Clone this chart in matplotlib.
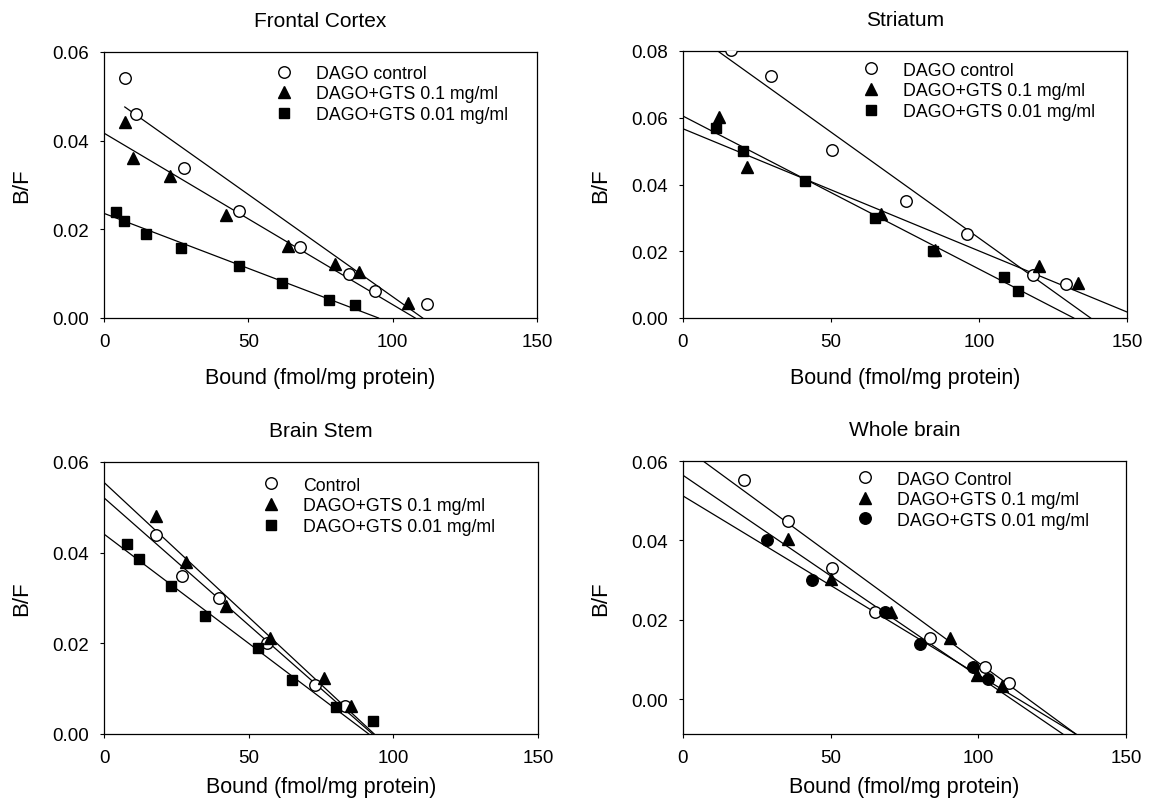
import matplotlib

matplotlib.use("Agg")
import matplotlib.pyplot as plt

plt.rcParams["font.family"] = ["Liberation Sans", "DejaVu Sans"]

# Frontal Cortex
fc_ctrl_x = [7.2, 11.0, 27.8, 46.9, 67.8, 85.0, 93.9, 111.9]
fc_ctrl_y = [0.0541, 0.0460, 0.0339, 0.0242, 0.0161, 0.0099, 0.0061, 0.0031]
fc_g01_x = [7.2, 9.9, 22.7, 42.4, 63.6, 79.9, 88.4, 105.3]
fc_g01_y = [0.0442, 0.0361, 0.0320, 0.0232, 0.0163, 0.0122, 0.0103, 0.0034]
fc_g001_x = [4.3, 6.9, 14.5, 26.8, 46.6, 61.7, 78.0, 86.9]
fc_g001_y = [0.0240, 0.0219, 0.0189, 0.0159, 0.0118, 0.0079, 0.0040, 0.0030]
fc_ctrl_fit = ([7.2, 110.4], [0.0476, 0.0])
fc_g01_fit = ([0.0, 107.8], [0.0417, 0.0])
fc_g001_fit = ([0.0, 95.1], [0.0236, 0.0])

# Striatum
st_ctrl_x = [16.3, 29.6, 50.5, 75.2, 96.0, 118.2, 129.3]
st_ctrl_y = [0.0802, 0.0724, 0.0502, 0.0352, 0.0252, 0.0129, 0.0102]
st_g01_x = [12.3, 21.6, 67.0, 85.3, 120.4, 133.4]
st_g01_y = [0.0602, 0.0452, 0.0312, 0.0205, 0.0155, 0.0104]
st_g001_x = [11.3, 20.3, 41.3, 65.0, 84.4, 108.3, 113.3]
st_g001_y = [0.0569, 0.0500, 0.0409, 0.0299, 0.0202, 0.0122, 0.0080]
st_ctrl_fit = ([10.0, 137.7], [0.0811, 0.0])
st_g01_fit = ([0.0, 150.0], [0.0567, 0.0018])
st_g001_fit = ([0.0, 132.0], [0.0605, 0.0])

# Brain Stem
bs_ctrl_x = [18.1, 26.9, 39.8, 56.2, 73.0, 83.3]
bs_ctrl_y = [0.0438, 0.0349, 0.0300, 0.0200, 0.0109, 0.0062]
bs_g01_x = [18.1, 28.2, 42.0, 57.4, 76.1, 85.2]
bs_g01_y = [0.0481, 0.0380, 0.0283, 0.0212, 0.0123, 0.0062]
bs_g001_x = [8.0, 12.0, 23.0, 35.0, 53.3, 65.0, 80.2, 93.1]
bs_g001_y = [0.0419, 0.0387, 0.0327, 0.0261, 0.0189, 0.0119, 0.0059, 0.0029]
bs_ctrl_fit = ([0.0, 92.8], [0.0521, 0.0])
bs_g01_fit = ([0.0, 93.4], [0.0555, 0.0])
bs_g001_fit = ([0.0, 91.5], [0.0441, 0.0])

# Whole brain
wb_ctrl_x = [20.6, 35.5, 50.5, 65.0, 83.5, 102.2, 110.5]
wb_ctrl_y = [0.0551, 0.0450, 0.0331, 0.0219, 0.0153, 0.0082, 0.0040]
wb_g01_x = [35.7, 50.2, 70.4, 90.5, 99.5, 108.1]
wb_g01_y = [0.0404, 0.0303, 0.0219, 0.0153, 0.0061, 0.0034]
wb_g001_x = [28.3, 43.7, 68.3, 80.4, 98.3, 103.2]
wb_g001_y = [0.0400, 0.0299, 0.0219, 0.0139, 0.0082, 0.0050]
wb_ctrl_fit = ([6.8, 133.0], [0.0600, -0.0088])
wb_g01_fit = ([0.0, 128.6], [0.0564, -0.0088])
wb_g001_fit = ([0.0, 133.0], [0.0512, -0.0088])

label_01 = "DAGO+GTS 0.1 mg/ml"
label_001 = "DAGO+GTS 0.01 mg/ml"

W, H = 1149, 804


def _axes_rect(left, right, top, bottom):
    return [left / W, 1 - bottom / H, (right - left) / W, (bottom - top) / H]


def draw_panel(ax, title, series, fits, ylim, yticks, legend_anchor, xlabelpad):
    for fx, fy in fits:
        ax.plot(fx, fy, color="black", lw=0.9, zorder=2)
    for x, y, marker, face, label in series:
        ms = 7 if marker == "s" else 8.3
        ax.plot(x, y, ls="none", marker=marker, ms=ms, mfc=face, mec="black",
                mew=1.0, label=label, zorder=3)
    ax.set_xlim(0, 150)
    ax.set_ylim(*ylim)
    ax.set_xticks([0, 50, 100, 150])
    ax.set_yticks(yticks)
    ax.set_yticklabels([f"{v:.2f}" for v in yticks])
    ax.tick_params(direction="out", length=3, width=0.8, labelsize=13.5, pad=8)
    for spine in ax.spines.values():
        spine.set_linewidth(0.9)
    ax.set_title(title, fontsize=15, pad=19)
    ax.set_xlabel("Bound (fmol/mg protein)", fontsize=15.5, labelpad=xlabelpad)
    ax.set_ylabel("B/F", fontsize=16, labelpad=14)
    ax.legend(loc="upper left", bbox_to_anchor=legend_anchor, frameon=False,
              fontsize=12.8, handlelength=1.0, handletextpad=1.3,
              labelspacing=0.2, borderpad=0, borderaxespad=0, numpoints=1)


fig = plt.figure(figsize=(W / 100, H / 100), dpi=100)

ax1 = fig.add_axes(_axes_rect(104, 537, 53, 319))
draw_panel(
    ax1, "Frontal Cortex",
    [(fc_ctrl_x, fc_ctrl_y, "o", "white", "DAGO control"),
     (fc_g01_x, fc_g01_y, "^", "black", label_01),
     (fc_g001_x, fc_g001_y, "s", "black", label_001)],
    [fc_ctrl_fit, fc_g01_fit, fc_g001_fit],
    (0, 0.06), [0.0, 0.02, 0.04, 0.06], (0.395, 0.952), 12,
)

ax2 = fig.add_axes(_axes_rect(683, 1127, 52, 319))
draw_panel(
    ax2, "Striatum",
    [(st_ctrl_x, st_ctrl_y, "o", "white", "DAGO control"),
     (st_g01_x, st_g01_y, "^", "black", label_01),
     (st_g001_x, st_g001_y, "s", "black", label_001)],
    [st_ctrl_fit, st_g01_fit, st_g001_fit],
    (0, 0.08), [0.0, 0.02, 0.04, 0.06, 0.08], (0.403, 0.96), 12,
)

ax3 = fig.add_axes(_axes_rect(104, 538, 463, 735))
draw_panel(
    ax3, "Brain Stem",
    [(bs_ctrl_x, bs_ctrl_y, "o", "white", "Control"),
     (bs_g01_x, bs_g01_y, "^", "black", label_01),
     (bs_g001_x, bs_g001_y, "s", "black", label_001)],
    [bs_ctrl_fit, bs_g01_fit, bs_g001_fit],
    (0, 0.06), [0.0, 0.02, 0.04, 0.06], (0.364, 0.946), 7,
)

ax4 = fig.add_axes(_axes_rect(683, 1126, 462, 735))
draw_panel(
    ax4, "Whole brain",
    [(wb_ctrl_x, wb_ctrl_y, "o", "white", "DAGO Control"),
     (wb_g01_x, wb_g01_y, "^", "black", label_01),
     (wb_g001_x, wb_g001_y, "o", "black", label_001)],
    [wb_ctrl_fit, wb_g01_fit, wb_g001_fit],
    (-0.0088, 0.06), [0.0, 0.02, 0.04, 0.06], (0.391, 0.965), 7,
)

fig.savefig("out.png", dpi=100)
